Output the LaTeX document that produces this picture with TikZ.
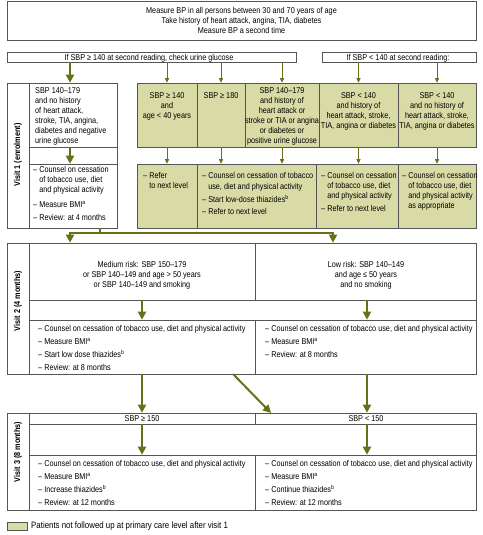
\documentclass[tikz,border=0pt]{standalone}
\usepackage{fontspec}
\setmainfont{Liberation Sans}[FakeStretch=0.855]
\usetikzlibrary{arrows.meta}
\definecolor{grn}{RGB}{217,219,166}
\definecolor{olv}{RGB}{104,112,24}
\definecolor{edge}{RGB}{85,85,85}
\tikzset{
 box/.style={draw=edge, line width=0.6pt, inner sep=0pt, rectangle},
 gbox/.style={box, fill=grn},
 txt/.style={inner sep=0pt, font=\fontsize{8.5}{10}\selectfont},
 vlab/.style={inner sep=0pt, rotate=90, font=\fontsize{8.5}{10}\selectfont\bfseries},
 bigarr/.style={draw=olv, line width=2pt, -{Triangle[width=8pt,length=8pt]}},
 smallarr/.style={draw=olv, line width=0.9pt, -{Triangle[width=4pt,length=4.5pt]}},
 bigline/.style={draw=olv, line width=2pt},
}
\newcommand\mkbox[6]{\node[#6, minimum width={(#4)-(#2)}, minimum height={(#5)-(#3)}] (#1) at ({((#2)+(#4))/2},{((#3)+(#5))/2}) {};}
\newcommand\txL[4]{\node[txt,anchor=base west] (#1) at (#2,#3) {#4};}
\newcommand\txC[4]{\node[txt,anchor=base] (#1) at (#2,#3) {#4};}
\newcommand\cont{\hphantom{–~}}
\begin{document}
\begin{tikzpicture}[x=1pt,y=-1pt]
\useasboundingbox (0,0) rectangle (482,535);
% boxes
\mkbox{top}{7}{1}{476}{40}{box}
\mkbox{bar1}{7}{52}{296}{62}{box}
\mkbox{bar2}{322}{52}{476}{62}{box}
\mkbox{v1s}{7}{83}{29}{228}{box}
\mkbox{v1a}{29}{83}{117}{147}{box}
\mkbox{v1g}{29}{147}{117}{164}{box}
\mkbox{v1b}{29}{164}{117}{228}{box}
\mkbox{g1}{137}{83}{197}{147}{gbox}
\mkbox{g2}{197}{83}{245}{147}{gbox}
\mkbox{g3}{245}{83}{319}{147}{gbox}
\mkbox{g4}{319}{83}{398}{147}{gbox}
\mkbox{g5}{398}{83}{476}{147}{gbox}
\mkbox{h1}{137}{164}{197}{228}{gbox}
\mkbox{h23}{197}{164}{316}{228}{gbox}
\mkbox{h4}{316}{164}{398}{228}{gbox}
\mkbox{h5}{398}{164}{476}{228}{gbox}
\mkbox{v2s}{7}{243}{29}{374}{box}
\mkbox{med}{29}{243}{255}{300}{box}
\mkbox{low}{255}{243}{476}{300}{box}
\mkbox{v2g}{29}{300}{476}{320}{box}
\mkbox{mb}{29}{320}{255}{374}{box}
\mkbox{lb}{255}{320}{476}{374}{box}
\mkbox{v3s}{7}{413}{29}{510}{box}
\mkbox{sa}{29}{413}{255}{424}{box}
\mkbox{sb}{255}{413}{476}{424}{box}
\mkbox{v3g}{29}{424}{476}{455}{box}
\mkbox{ca}{29}{455}{255}{510}{box}
\mkbox{cb}{255}{455}{476}{510}{box}
\mkbox{leg}{7}{522}{27}{530}{gbox}
% coordinates
\coordinate (xA) at (70,0);
\coordinate (xB) at (100,0);
\coordinate (xC) at (333,0);
\coordinate (xR) at (367,0);
\coordinate (jn) at (0,233);
\coordinate (dgA) at (233,374);
\coordinate (dgB) at (271,413);
% texts
\txC{top1}{241.5}{14}{Measure BP in all persons between 30 and 70 years of age}
\txC{top2}{241.5}{24}{Take history of heart attack, angina, TIA, diabetes}
\txC{top3}{241.5}{34}{Measure BP a second time}
\txC{b1t}{149}{60}{If SBP ≥ 140 at second reading, check urine glucose}
\txC{b2t}{398}{60}{If SBP < 140 at second reading:}
\txL{a1}{35}{93}{SBP 140–179}
\txL{a2}{35}{103}{and no history}
\txL{a3}{35}{113}{of heart attack,}
\txL{a4}{35}{123}{stroke, TIA, angina,}
\txL{a5}{35}{133}{diabetes and negative}
\txL{a6}{35}{143}{urine glucose}
\txL{c1}{33}{172}{– Counsel on cessation}
\txL{c2}{33}{182}{\cont of tobacco use, diet}
\txL{c3}{33}{192}{\cont and physical activity}
\txL{c4}{33}{207}{– Measure BMI\textsuperscript{a}}
\txL{c5}{33}{220}{– Review: at 4 months}
\txC{g1a}{167}{98}{SBP ≥ 140}
\txC{g1b}{167}{108}{and}
\txC{g1c}{167}{118}{age < 40 years}
\txC{g2a}{221}{98}{SBP ≥ 180}
\txC{g3a}{282}{93}{SBP 140–179}
\txC{g3b}{282}{103}{and history of}
\txC{g3c}{282}{113}{heart attack or}
\txC{g3d}{282}{123}{stroke or TIA or angina}
\txC{g3e}{282}{133}{or diabetes or}
\txC{g3f}{282}{143}{positive urine glucose}
\txC{g4a}{358.5}{98}{SBP < 140}
\txC{g4b}{358.5}{108}{and history of}
\txC{g4c}{358.5}{118}{heart attack, stroke,}
\txC{g4d}{358.5}{128}{TIA, angina or diabetes}
\txC{g5a}{437}{98}{SBP < 140}
\txC{g5b}{437}{108}{and no history of}
\txC{g5c}{437}{118}{heart attack, stroke,}
\txC{g5d}{437}{128}{TIA, angina or diabetes}
\txL{h1a}{143}{178}{– Refer}
\txL{h1b}{143}{188}{\cont to next level}
\txL{h2a}{202}{178}{– Counsel on cessation of tobacco}
\txL{h2b}{202}{189}{\cont use, diet and physical activity}
\txL{h2c}{202}{202}{– Start low-dose thiazides\textsuperscript{b}}
\txL{h2d}{202}{214}{– Refer to next level}
\txL{h4a}{321}{178}{– Counsel on cessation}
\txL{h4b}{321}{188}{\cont of tobacco use, diet}
\txL{h4c}{321}{198}{\cont and physical activity}
\txL{h4d}{321}{211}{– Refer to next level}
\txL{h5a}{402}{178}{– Counsel on cessation}
\txL{h5b}{402}{188}{\cont of tobacco use, diet}
\txL{h5c}{402}{198}{\cont and physical activity}
\txL{h5d}{402}{208}{\cont as appropriate}
\txC{m1}{142}{267}{Medium risk: SBP 150–179}
\txC{m2}{142}{277}{or SBP 140–149 and age > 50 years}
\txC{m3}{142}{287}{or SBP 140–149 and smoking}
\txC{l1}{366}{267}{Low risk: SBP 140–149}
\txC{l2}{366}{277}{and age ≤ 50 years}
\txC{l3}{366}{287}{and no smoking}
\txL{mb1}{38}{331}{– Counsel on cessation of tobacco use, diet and physical activity}
\txL{mb2}{38}{344}{– Measure BMI\textsuperscript{a}}
\txL{mb3}{38}{357}{– Start low dose thiazides\textsuperscript{b}}
\txL{mb4}{38}{370}{– Review: at 8 months}
\txL{lb1}{265}{331}{– Counsel on cessation of tobacco use, diet and physical activity}
\txL{lb2}{265}{344}{– Measure BMI\textsuperscript{a}}
\txL{lb3}{265}{357}{– Review: at 8 months}
\txC{sat}{142}{421}{SBP ≥ 150}
\txC{sbt}{366}{421}{SBP < 150}
\txL{ca1}{38}{466}{– Counsel on cessation of tobacco use, diet and physical activity}
\txL{ca2}{38}{479}{– Measure BMI\textsuperscript{a}}
\txL{ca3}{38}{492}{– Increase thiazides\textsuperscript{b}}
\txL{ca4}{38}{505}{– Review: at 12 months}
\txL{cb1}{265}{466}{– Counsel on cessation of tobacco use, diet and physical activity}
\txL{cb2}{265}{479}{– Measure BMI\textsuperscript{a}}
\txL{cb3}{265}{492}{– Continue thiazides\textsuperscript{b}}
\txL{cb4}{265}{505}{– Review: at 12 months}
\node[txt, font=\fontsize{9.2}{10}\selectfont, anchor=west] (legt) at (31,526) {Patients not followed up at primary care level after visit 1};
\node[vlab] (v1l) at (18,155) {Visit 1 (enrolment)};
\node[vlab] (v2l) at (18,301) {Visit 2 (4 months)};
\node[vlab] (v3l) at (18,452) {Visit 3 (8 months)};
% thin arrows
\draw[smallarr] (bar1.south -| g1.north) -- (g1.north);
\draw[smallarr] (bar1.south -| g2.north) -- (g2.north);
\draw[smallarr] (bar1.south -| g3.north) -- (g3.north);
\draw[smallarr] (bar2.south -| g4.north) -- (g4.north);
\draw[smallarr] (bar2.south -| g5.north) -- (g5.north);
\draw[smallarr] (g1.south) -- (g1.south |- h1.north);
\draw[smallarr] (g2.south) -- (g2.south |- h23.north);
\draw[smallarr] (g3.south) -- (g3.south |- h23.north);
\draw[smallarr] (g4.south) -- (g4.south |- h4.north);
\draw[smallarr] (g5.south) -- (g5.south |- h5.north);
% thick arrows
\draw[bigarr] (bar1.south -| xA) -- (v1a.north -| xA);
\draw[bigarr] (v1a.south -| xA) -- (v1b.north -| xA);
\draw[bigline] (v1b.south -| xB) -- (jn -| xB);
\draw[bigarr] (jn -| xB) -| (med.north -| xA);
\draw[bigarr] (jn -| xB) -| (low.north -| xC);
\draw[bigarr] (med.south) -- (mb.north);
\draw[bigarr] (low.south -| xR) -- (lb.north -| xR);
\draw[bigarr] (mb.south) -- (sa.north);
\draw[bigarr] (dgA) -- (dgB);
\draw[bigarr] (lb.south -| xR) -- (sb.north -| xR);
\draw[bigarr] (sa.south) -- (ca.north);
\draw[bigarr] (sb.south -| xR) -- (cb.north -| xR);
\end{tikzpicture}
\end{document}
